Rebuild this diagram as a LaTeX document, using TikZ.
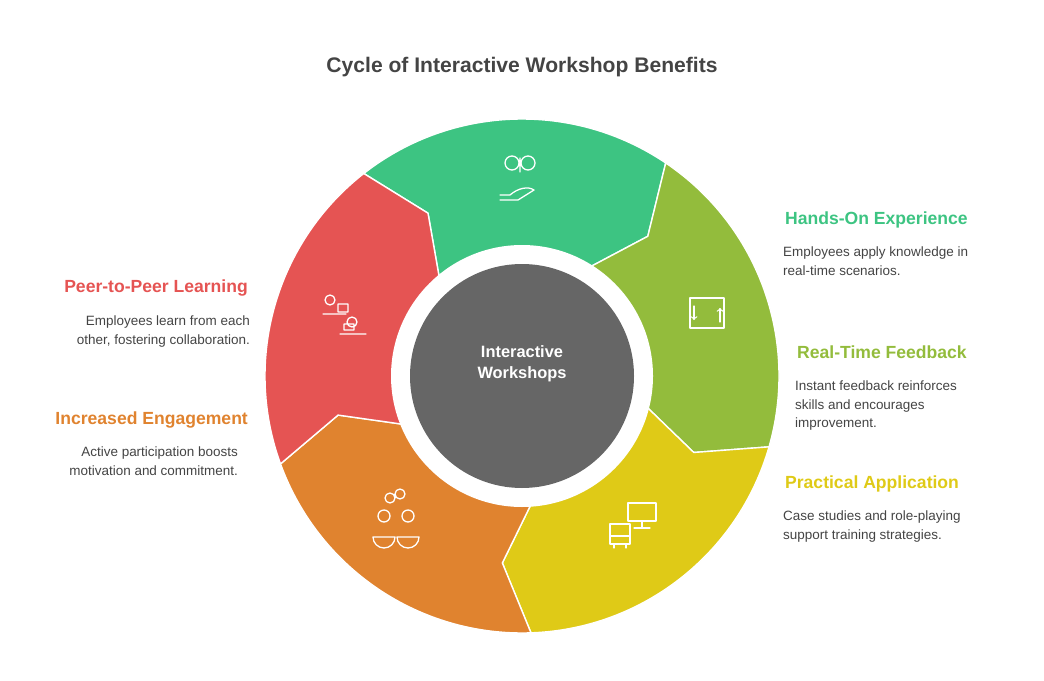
\documentclass[tikz,border=0pt]{standalone}
\usepackage{fontspec}
\setmainfont{Liberation Sans}
\definecolor{cgreen}{HTML}{3DC482}
\definecolor{clime}{HTML}{93BC3C}
\definecolor{cyellow}{HTML}{DFCA17}
\definecolor{corange}{HTML}{E0832F}
\definecolor{cred}{HTML}{E55453}
\definecolor{cgray}{HTML}{666666}
\definecolor{ctext}{HTML}{444444}
\tikzset{
  head/.style={font=\bfseries\fontsize{15}{18}\selectfont},
  body/.style={font=\fontsize{11.5}{15.5}\selectfont,text=ctext,align=left},
  icon/.style={draw=white,line width=1.1pt,line cap=round,line join=round}
}
\begin{document}
\begin{tikzpicture}[x=0.03cm,y=-0.03cm]
    \useasboundingbox (0,0) rectangle (1044,681);
    \node[font=\bfseries\fontsize{18}{22}\selectfont,text=ctext] (title) at (522,67) {Cycle of Interactive Workshop Benefits};
    % ring segments
    \begin{scope}[shift={(522,376)},yscale=-1]
      \foreach \a/\c in {128/cgreen,56/clime,-16/cyellow,-88/corange,-160/cred} {
        \pgfmathsetmacro\b{\a-72}
        \fill[\c,draw=white,line width=1.2pt] (\a:257) arc[start angle=\a,end angle=\b,radius=257]
          -- ({\b-8}:188) -- ({\b+3}:125) arc[start angle={\b+3},end angle={\a+3},radius=125]
          -- ({\a-8}:188) -- cycle;
      }
      \fill[white] (0,0) circle (131);
      \fill[cgray] (0,0) circle (112);
    \end{scope}
    \node[font=\bfseries\fontsize{14}{18}\selectfont,text=white,align=center] (hub) at (522,364) {Interactive\\Workshops};
    % icons
    \draw[icon] (512,163) circle (7) (528,163) circle (7) (520,158) -- (520,172);
    \draw[icon] (500,195) -- (510,195) .. controls (518,188) and (528,186) .. (534,190) -- (518,200) -- (500,200);
    \draw[icon] (690,298) rectangle (724,328);
    \draw[icon,->] (694,306) -- (694,320);
    \draw[icon,->] (720,322) -- (720,308);
    \draw[icon] (628,503) rectangle (656,521) (642,521) -- (642,528) (634,528) -- (650,528);
    \draw[icon] (610,524) rectangle (630,544) (610,536) -- (630,536) (614,544) -- (614,548) (626,544) -- (626,548);
    \draw[icon] (384,516) circle (6) (408,516) circle (6) (373,537) arc[start angle=180,end angle=0,radius=11] -- cycle (397,537) arc[start angle=180,end angle=0,radius=11] -- cycle;
    \draw[icon] (390,498) circle (5) (400,494) circle (5);
    \draw[icon] (330,300) circle (5) (323,314) rectangle (346,314) (338,304) rectangle (348,312);
    \draw[icon] (352,322) circle (5) (340,334) -- (366,334) (344,324) rectangle (354,330);
    % labels
    \node[head,text=cgreen,anchor=west] (h1) at (781,220) {Hands-On Experience};
    \node[body,anchor=north west] (b1) at (779,243) {Employees apply knowledge in\\real-time scenarios.};
    \node[head,text=clime,anchor=west] (h2) at (793,352) {Real-Time Feedback};
    \node[body,anchor=north west] (b2) at (791,377) {Instant feedback reinforces\\skills and encourages\\improvement.};
    \node[head,text=cyellow,anchor=west] (h3) at (781,484) {Practical Application};
    \node[body,anchor=north west] (b3) at (779,507) {Case studies and role-playing\\support training strategies.};
    \node[head,text=cred,anchor=east] (h4) at (252,288) {Peer-to-Peer Learning};
    \node[body,align=right,anchor=north east] (b4) at (254,312) {Employees learn from each\\other, fostering collaboration.};
    \node[head,text=corange,anchor=east] (h5) at (252,420) {Increased Engagement};
    \node[body,align=right,anchor=north east] (b5) at (242,443) {Active participation boosts\\motivation and commitment.};
\end{tikzpicture}
\end{document}
